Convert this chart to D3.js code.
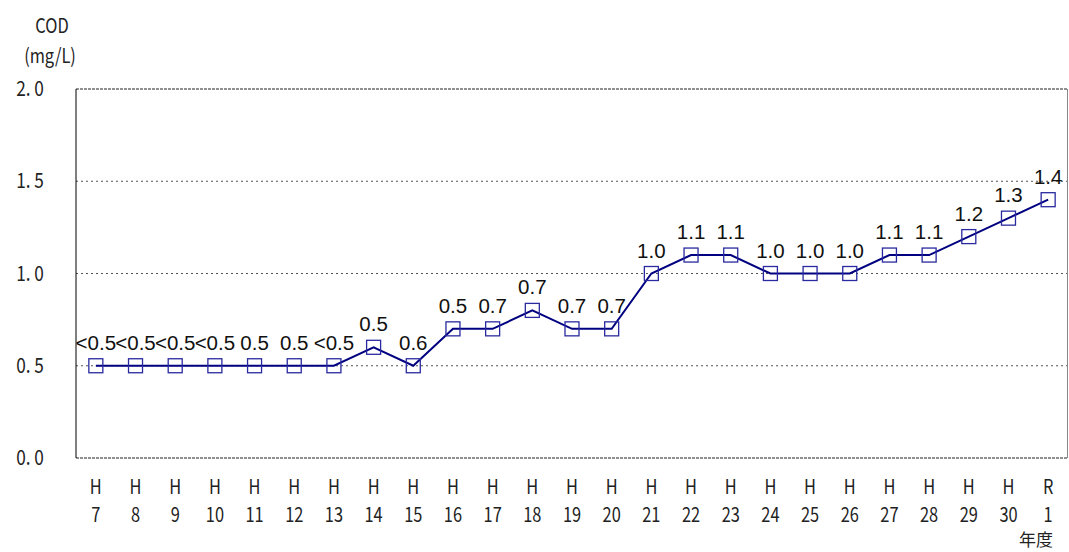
<!DOCTYPE html>
<html><head><meta charset="utf-8">
<script src="https://cdn.jsdelivr.net/npm/d3@7"></script>
<style>body{margin:0;background:#fff}svg{display:block}</style>
</head><body>
<svg id="c" width="1069" height="552"></svg>
<script>
const eraLabels = ["H","H","H","H","H","H","H","H","H","H","H","H","H","H","H","H","H","H","H","H","H","H","H","H","R"];
const yearLabels = ["7","8","9","10","11","12","13","14","15","16","17","18","19","20","21","22","23","24","25","26","27","28","29","30","1"];
const codValues = [0.5,0.5,0.5,0.5,0.5,0.5,0.5,0.6,0.5,0.7,0.7,0.8,0.7,0.7,1.0,1.1,1.1,1.0,1.0,1.0,1.1,1.1,1.2,1.3,1.4];
const valueLabels = ["<0.5","<0.5","<0.5","<0.5","0.5","0.5","<0.5","0.5","0.6","0.5","0.7","0.7","0.7","0.7","1.0","1.1","1.1","1.0","1.0","1.0","1.1","1.1","1.2","1.3","1.4"];
const yTicks = [0, 0.5, 1.0, 1.5, 2.0];
const yTickLabels = ["0. 0","0. 5","1. 0","1. 5","2. 0"];

const svg = d3.select("#c");
const L = 76, R = 1068, T = 89, B = 458;
const idx = d3.range(codValues.length);
const x = d3.scaleBand().domain(idx).range([L, R]);
const y = d3.scaleLinear().domain([0, 2]).range([B, T]);
const axisFont = "'Noto Sans CJK JP', sans-serif";
const SX = 0.82;

function axisText(g, px, py, txt, anchor, size, sx) {
  g.append("text").attr("transform", `translate(${px},${py}) scale(${sx || SX},1)`)
    .attr("text-anchor", anchor || "middle").attr("font-family", axisFont)
    .attr("font-size", size || 20).attr("fill", "#222").text(txt);
}

// gridlines
svg.append("g").selectAll("line").data(yTicks.filter(v => v > 0 && v < 2)).join("line")
  .attr("x1", L).attr("x2", R).attr("y1", d => y(d)).attr("y2", d => y(d))
  .attr("stroke", "#555").attr("stroke-width", 1).attr("stroke-dasharray", "2,3");
// frame
svg.append("line").attr("x1", L).attr("x2", R).attr("y1", y(2)).attr("y2", y(2)).attr("stroke", "#222").attr("stroke-dasharray", "3,1");
svg.append("line").attr("x1", L).attr("x2", R).attr("y1", y(0)).attr("y2", y(0)).attr("stroke", "#222").attr("stroke-dasharray", "3,1");
svg.append("line").attr("x1", L).attr("x2", L).attr("y1", y(2)).attr("y2", y(0)).attr("stroke", "#000");
svg.append("line").attr("x1", R - 0.5).attr("x2", R - 0.5).attr("y1", y(2)).attr("y2", y(0)).attr("stroke", "#888");

const g = svg.append("g");
// y tick labels
yTicks.forEach((d, i) => axisText(g, 30, y(d) + 7, yTickLabels[i], "middle", 21));

// axis title
axisText(g, 52, 33, "COD", "middle", 20);
axisText(g, 50, 63, "(mg/L)", "middle", 20);

// x labels
const cx = i => x(i) + x.bandwidth() / 2;
idx.forEach(i => {
  axisText(g, cx(i), 494, eraLabels[i], "middle", 20);
  axisText(g, cx(i), 522, yearLabels[i], "middle", 20);
});
axisText(g, 1053, 546, "年度", "end", 17, 1);

// line
const line = d3.line().x(i => cx(i)).y(i => y(codValues[i]));
svg.append("path").datum(idx).attr("d", line).attr("fill", "none")
  .attr("stroke", "#000080").attr("stroke-width", 2);
// markers
svg.append("g").selectAll("rect").data(idx).join("rect")
  .attr("x", i => cx(i) - 7).attr("y", i => y(codValues[i]) - 7)
  .attr("width", 14).attr("height", 14).attr("fill", "none")
  .attr("stroke", "#2a2aa0").attr("stroke-width", 1.3);
// value labels
svg.append("g").selectAll("text").data(idx).join("text")
  .attr("x", i => Math.min(cx(i), 1051)).attr("y", i => y(codValues[i]) - 16)
  .attr("text-anchor", "middle").attr("font-family", "'Liberation Sans', Arial, sans-serif")
  .attr("font-size", 20.5).attr("fill", "#111")
  .text(i => valueLabels[i]);
</script>
</body></html>
